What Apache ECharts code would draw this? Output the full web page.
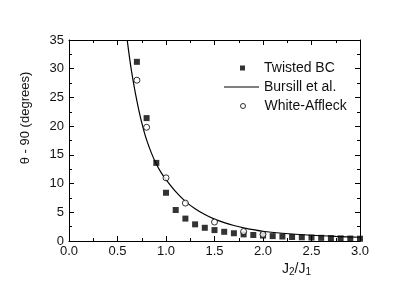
<!DOCTYPE html>
<html>
<head>
<meta charset="utf-8">
<script src="https://cdn.jsdelivr.net/npm/echarts@6/dist/echarts.min.js"></script>
<style>
html,body{margin:0;padding:0;background:#fff;}
#c{width:415px;height:290px;}
</style>
</head>
<body>
<div id="c"></div>
<script>
// Twisted BC (filled squares)
const twistedX = [0.7,0.8,0.9,1.0,1.1,1.2,1.3,1.4,1.5,1.6,1.7,1.8,1.9,2.0,2.1,2.2,2.3,2.4,2.5,2.6,2.7,2.8,2.9,3.0];
const twistedY = [31.2,21.4,13.6,8.4,5.4,3.9,2.9,2.3,1.9,1.6,1.35,1.15,1.05,0.95,0.85,0.78,0.7,0.65,0.6,0.55,0.5,0.46,0.43,0.4];
// White-Affleck (open circles)
const whiteX = [0.7,0.8,1.0,1.2,1.5,1.8,2.0];
const whiteY = [28.0,19.8,11.0,6.6,3.3,1.65,1.15];
// Bursill et al. (solid curve)
const bursillX = [0.6,0.625,0.65,0.675,0.7,0.725,0.75,0.775,0.8,0.85,0.9,0.95,1.0,1.1,1.2,1.3,1.4,1.5,1.6,1.7,1.8,2.0,2.2,2.5,2.75,3.0];
const bursillY = [35,31.8,29.0,26.6,24.4,22.4,20.6,19.0,17.6,15.3,13.4,11.9,10.7,8.6,6.9,5.6,4.6,3.8,3.2,2.7,2.3,1.7,1.35,1.0,0.8,0.65];
const xTicks = [0,0.5,1.0,1.5,2.0,2.5,3.0];
const yTicks = [0,5,10,15,20,25,30,35];

const zip = (a,b)=>a.map((v,i)=>[v,b[i]]);
const FONT = 'Liberation Sans, Arial, sans-serif';
const chart = echarts.init(document.getElementById('c'), null, {renderer:'canvas'});
const axisCommon = {
  axisLine:{show:true, onZero:false, lineStyle:{color:'#000', width:1}},
  axisTick:{show:true, inside:true, length:5, lineStyle:{color:'#000'}},
  minorTick:{show:true, splitNumber:2, length:3, lineStyle:{color:'#000'}},
  splitLine:{show:false}
};
const legText = {color:'#111', fontSize:14, fontFamily:FONT, lineHeight:16};
chart.setOption({
  animation:false,
  backgroundColor:'#fff',
  grid:{left:69, right:55, top:40, bottom:49, containLabel:false},
  xAxis:[
    Object.assign({type:'value', position:'bottom', min:xTicks[0], max:xTicks[xTicks.length-1], interval:0.5,
      axisLabel:{color:'#111', fontSize:13, fontFamily:FONT, margin:4, formatter:v=>v.toFixed(1)}}, axisCommon),
    Object.assign({type:'value', position:'top', min:xTicks[0], max:xTicks[xTicks.length-1], interval:0.5,
      axisLabel:{show:false}}, axisCommon)
  ],
  yAxis:[
    Object.assign({type:'value', position:'left', min:yTicks[0], max:yTicks[yTicks.length-1], interval:5,
      axisLabel:{color:'#111', fontSize:13, fontFamily:FONT, margin:5}}, axisCommon),
    Object.assign({type:'value', position:'right', min:yTicks[0], max:yTicks[yTicks.length-1], interval:5,
      axisLabel:{show:false}}, axisCommon)
  ],
  legend:[
    {data:[{name:'Twisted BC', icon:'rect', itemStyle:{color:'#000'}}], left:235, top:55, itemWidth:5, itemHeight:5, itemGap:0, selectedMode:false,
      textStyle:Object.assign({padding:[0,0,0,14]}, legText)},
    {data:[{name:'Bursill et al.', icon:'rect', itemStyle:{color:'#000'}}], left:219, top:74, itemWidth:35, itemHeight:1.2, itemGap:0, selectedMode:false,
      textStyle:legText},
    {data:[{name:'White-Affleck', icon:'circle', itemStyle:{color:'#fff', borderColor:'#000', borderWidth:1}}], left:235, top:93, itemWidth:5, itemHeight:5, itemGap:0, selectedMode:false,
      textStyle:Object.assign({padding:[0,0,0,14]}, legText)}
  ],
  series:[
    {name:'Twisted BC', type:'scatter', data:zip(twistedX,twistedY), symbol:'rect', symbolSize:6,
      itemStyle:{color:'#000'}, z:3},
    {name:'Bursill et al.', type:'line', data:zip(bursillX,bursillY), showSymbol:false, symbol:'none', smooth:0.3,
      lineStyle:{color:'#000', width:1.2}, itemStyle:{color:'#000'}, z:2, clip:true},
    {name:'White-Affleck', type:'scatter', data:zip(whiteX,whiteY), symbol:'circle', symbolSize:6,
      itemStyle:{color:'#fff', borderColor:'#000', borderWidth:1}, z:4}
  ],
  graphic:[
    {type:'text', x:25, y:118, rotation:Math.PI/2,
      style:{text:'θ - 90 (degrees)', fill:'#111', font:'13px '+FONT, align:'center', verticalAlign:'middle'}},
    {type:'text', left:282, top:262,
      style:{rich:{n:{fontSize:14, fontFamily:FONT, fill:'#111'}, s:{fontSize:10, fontFamily:FONT, fill:'#111', padding:[7,0,0,0]}},
        text:'{n|J}{s|2}{n|/J}{s|1}', fill:'#111'}}
  ]
});
</script>
</body>
</html>
